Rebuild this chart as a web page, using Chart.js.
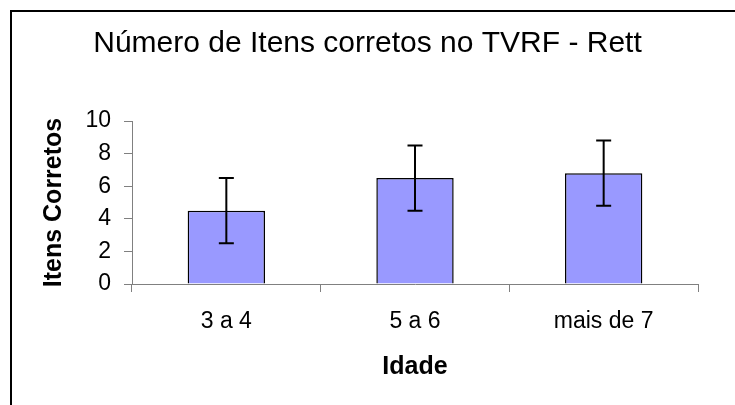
<!DOCTYPE html>
<html>
<head>
<meta charset="utf-8">
<script src="https://cdn.jsdelivr.net/npm/chart.js@4/dist/chart.umd.min.js"></script>
<style>
  html, body { margin: 0; padding: 0; background: #fff; }
  canvas { display: block; }
</style>
</head>
<body>
<canvas id="c" width="735" height="405"></canvas>
<script>
const categories = ['3 a 4', '5 a 6', 'mais de 7'];
const meanValues = [4.5, 6.5, 6.8];
const errorValues = [2.0, 2.0, 2.0];
const yTicks = [0, 2, 4, 6, 8, 10];
const titleText = 'Número de Itens corretos no TVRF - Rett';
const xTitle = 'Idade';
const yTitle = 'Itens Corretos';

const FONT = "'Liberation Sans', Arial, sans-serif";
Chart.defaults.color = '#000';
Chart.defaults.font.family = FONT;

const frame = {
  id: 'frame',
  afterDraw(chart) {
    const ctx = chart.ctx;
    ctx.save();
    ctx.strokeStyle = '#000';
    ctx.lineWidth = 2;
    ctx.beginPath();
    ctx.moveTo(11, 405);
    ctx.lineTo(11, 11);
    ctx.lineTo(735, 11);
    ctx.stroke();
    ctx.restore();
  }
};

const errorBars = {
  id: 'errorBars',
  afterDatasetsDraw(chart) {
    const ctx = chart.ctx;
    const y = chart.scales.y;
    const meta = chart.getDatasetMeta(0);
    ctx.save();
    ctx.strokeStyle = '#000';
    ctx.lineWidth = 2;
    meta.data.forEach((bar, i) => {
      const x = bar.x;
      const top = y.getPixelForValue(meanValues[i] + errorValues[i]);
      const bot = y.getPixelForValue(meanValues[i] - errorValues[i]);
      const cap = 7.5;
      ctx.beginPath();
      ctx.moveTo(x, top); ctx.lineTo(x, bot);
      ctx.moveTo(x - cap, top); ctx.lineTo(x + cap, top);
      ctx.moveTo(x - cap, bot); ctx.lineTo(x + cap, bot);
      ctx.stroke();
    });
    ctx.restore();
  }
};

new Chart(document.getElementById('c'), {
  type: 'bar',
  data: {
    labels: categories,
    datasets: [{
      data: meanValues,
      yAxisID: 'y',
      backgroundColor: '#9999FF',
      borderColor: '#000',
      borderWidth: 1.5,
      categoryPercentage: 1,
      barPercentage: 0.41
    }]
  },
  options: {
    responsive: false,
    animation: false,
    layout: { padding: 0 },
    plugins: {
      legend: { display: false },
      tooltip: { enabled: false },
      title: {
        display: true,
        text: titleText,
        color: '#000',
        font: { size: 30, weight: 'normal', family: FONT, lineHeight: 1.2 },
        padding: { top: 26, bottom: 59 }
      }
    },
    scales: {
      x: {
        afterFit(scale) { scale.height = 121; },
        grid: { drawOnChartArea: false, drawTicks: true, tickLength: 8, color: '#808080', offset: true },
        border: { display: true, color: '#808080', width: 1 },
        ticks: { color: '#000', padding: 16, font: { size: 23, family: FONT } },
        title: {
          display: true, text: xTitle, color: '#000',
          font: { size: 25, weight: 'bold', family: FONT, lineHeight: 1.2 },
          padding: { top: 0, bottom: 23 }
        }
      },
      y: {
        min: 0, max: 10,
        afterFit(scale) { scale.width = 132; },
        afterBuildTicks(scale) { scale.ticks = yTicks.map(v => ({ value: v })); },
        grid: { drawOnChartArea: false, drawTicks: true, tickLength: 8, color: '#808080' },
        border: { display: true, color: '#808080', width: 1 },
        ticks: { color: '#000', padding: 13, font: { size: 23, family: FONT } },
        title: {
          display: true, text: yTitle, color: '#000',
          font: { size: 25, weight: 'bold', family: FONT, lineHeight: 1.2 },
          padding: { top: 39, bottom: 0 }
        }
      },
      spacer: {
        type: 'linear',
        position: 'right',
        display: true,
        afterFit(scale) { scale.width = 37; },
        grid: { display: false, drawTicks: false },
        border: { display: false },
        ticks: { display: false }
      }
    }
  },
  plugins: [frame, errorBars]
});
</script>
</body>
</html>
